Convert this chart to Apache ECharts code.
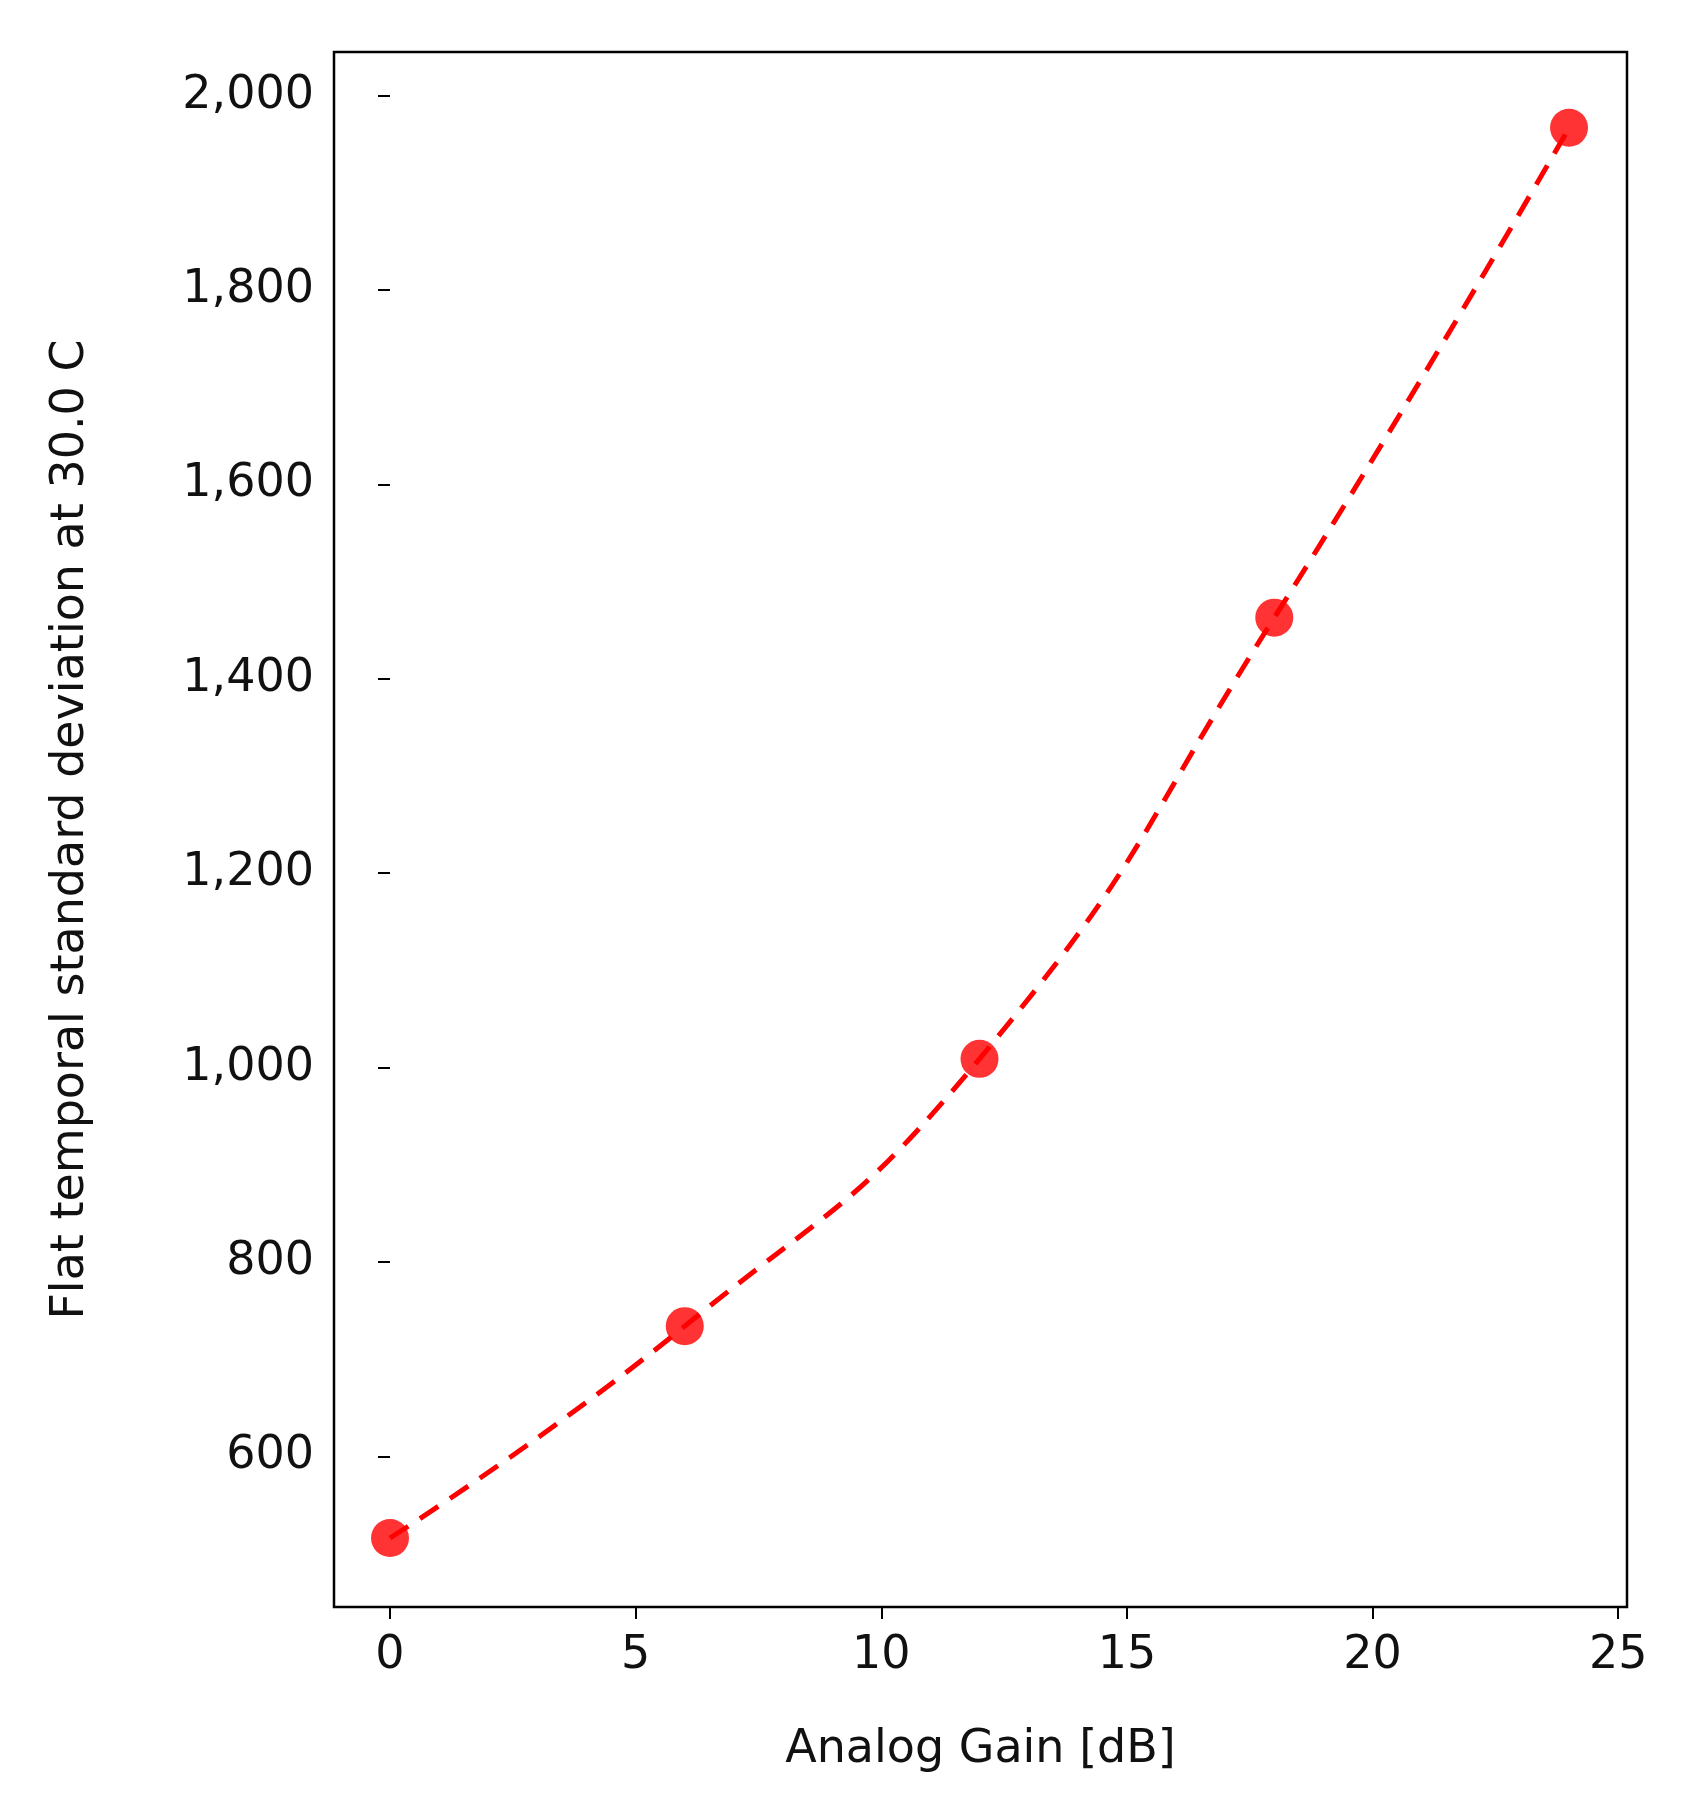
<!DOCTYPE html>
<html>
<head>
<meta charset="utf-8">
<script src="https://cdn.jsdelivr.net/npm/echarts@6/dist/echarts.min.js"></script>
<style>html,body{margin:0;background:#fff}#main{width:1682px;height:1820px}</style>
</head>
<body>
<div id="main"></div>
<script>
var gains = [0, 6, 12, 18, 24];
var stdDev = [516, 734, 1009, 1463, 1967];
var xTicks = [0, 5, 10, 15, 20, 25];
var yTicks = [600, 800, 1000, 1200, 1400, 1600, 1800, 2000];

var chart = echarts.init(document.getElementById('main'));
var pts = [];
for (var i = 0; i < gains.length; i++) {
  pts.push([gains[i], stdDev[i]]);
}
var font = 'DejaVu Sans';

var option = {
  animation: false,
  backgroundColor: '#fff',
  grid: { left: 334, right: 55, top: 52, bottom: 213, show: true, borderColor: '#000', borderWidth: 2.5 },
  xAxis: {
    type: 'value', min: -1.14, max: 25.18,
    name: 'Analog Gain [dB]', nameLocation: 'middle', nameGap: 120,
    nameTextStyle: { fontFamily: font, fontSize: 46, color: '#111' },
    axisLine: { show: false },
    axisTick: { show: true, length: 12, lineStyle: { color: '#000', width: 2 }, customValues: xTicks },
    axisLabel: { fontFamily: font, fontSize: 46, color: '#111', margin: 26, customValues: xTicks },
    splitLine: { show: false }
  },
  yAxis: {
    type: 'value', min: 445, max: 2045,
    name: 'Flat temporal standard deviation at 30.0 C', nameLocation: 'middle', nameGap: 240,
    nameTextStyle: { fontFamily: font, fontSize: 46, color: '#111' },
    axisLine: { show: false },
    axisTick: { show: true, length: 12, lineStyle: { color: '#000', width: 2 }, customValues: yTicks },
    axisLabel: { fontFamily: font, fontSize: 46, color: '#111', margin: 20, customValues: yTicks },
    splitLine: { show: false }
  },
  series: [
    {
      type: 'line', data: pts, smooth: 0.5, showSymbol: false,
      lineStyle: { color: '#ff0000', width: 5, type: [22, 14] }
    },
    {
      type: 'scatter', data: pts, symbolSize: 38,
      itemStyle: { color: '#ff0000' }
    }
  ]
};
chart.setOption(option);
</script>
</body>
</html>
